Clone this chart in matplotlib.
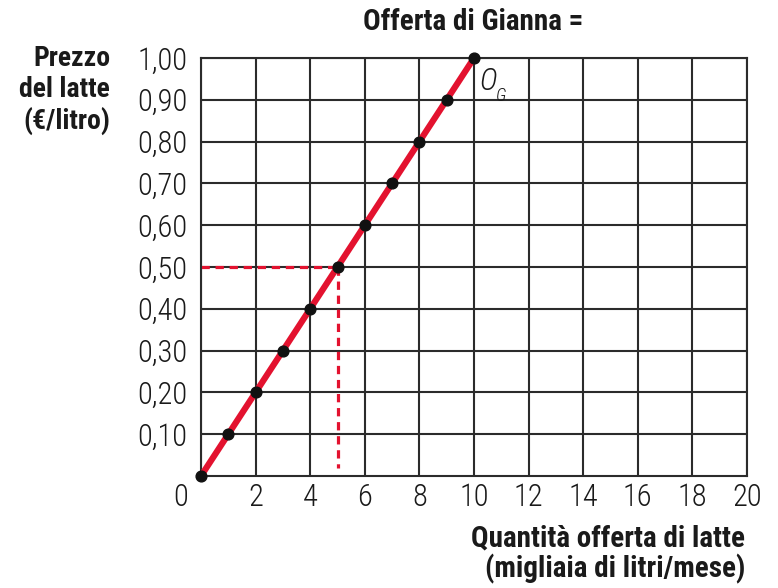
import matplotlib
matplotlib.use("Agg")
import matplotlib.pyplot as plt
from matplotlib.ticker import FixedLocator

INK = "#1a1a1a"
GRID = "#2b2b2b"
RED = "#e3122f"

plt.rcParams.update({
    "font.family": ["Roboto Condensed", "DejaVu Sans"],
})

# supply schedule of Gianna
quantity = [0, 1, 2, 3, 4, 5, 6, 7, 8, 9, 10]
price = [0.0, 0.10, 0.20, 0.30, 0.40, 0.50, 0.60, 0.70, 0.80, 0.90, 1.00]

x_ticks = [0, 2, 4, 6, 8, 10, 12, 14, 16, 18, 20]
y_ticks = [0.1, 0.2, 0.3, 0.4, 0.5, 0.6, 0.7, 0.8, 0.9, 1.0]
y_labels = ["0,10", "0,20", "0,30", "0,40", "0,50", "0,60", "0,70", "0,80", "0,90", "1,00"]

# highlighted point
q_mark, p_mark = 5, 0.50

fig = plt.figure(figsize=(7.78, 5.88), dpi=100)
ax = fig.add_axes([201 / 778, 1 - 476 / 588, 546 / 778, 418 / 588])

ax.set_xlim(0, 20)
ax.set_ylim(0, 1.0)
ax.xaxis.set_major_locator(FixedLocator(x_ticks))
ax.yaxis.set_major_locator(FixedLocator(y_ticks))
ax.set_xticklabels(["" if t == 0 else str(t) for t in x_ticks])
ax.set_yticklabels(y_labels)
ax.grid(True, color=GRID, linewidth=1.5, zorder=1)
for s in ax.spines.values():
    s.set_color(GRID)
    s.set_linewidth(1.5)
ax.tick_params(axis="y", length=0, labelsize=22, colors=INK, pad=10)
ax.tick_params(axis="x", length=0, labelsize=22, colors=INK, pad=5)
for lab in ax.get_xticklabels() + ax.get_yticklabels():
    lab.set_fontweight("light")
ax.set_axisbelow(True)

# origin label sits left of the axis corner
ax.annotate("0", xy=(0, 0), xytext=(-15, -5), textcoords="offset points",
            ha="center", va="top", fontsize=22, fontweight="light", color=INK,
            annotation_clip=False)

ax.plot([0, q_mark], [p_mark, p_mark], color=RED, linewidth=2.3,
        linestyle=(0, (2.6, 1.8)), zorder=2)
ax.plot([q_mark, q_mark], [p_mark, 0.02], color=RED, linewidth=2.3,
        linestyle=(0, (2.6, 1.8)), zorder=2)

ax.plot(quantity, price, color=RED, linewidth=4.5, solid_capstyle="butt", zorder=3)
ax.scatter(quantity, price, s=60, color="#111111", zorder=4, clip_on=False)

ax.text(10.2, 0.98, "O", fontsize=22, style="italic", fontweight="light",
        color=INK, ha="left", va="top")
ax.text(10.82, 0.93, "G", fontsize=13, style="italic", fontweight="light",
        color=INK, ha="left", va="top")

fig.text(473 / 778, 1 - 22 / 588, "Offerta di Gianna =", ha="center", va="center",
         fontsize=21, fontweight="heavy", color=INK)
fig.text(110 / 778, 1 - 45 / 588, "Prezzo\ndel latte\n(€/litro)", ha="right", va="top",
         fontsize=20, fontweight="heavy", color=INK, linespacing=1.18)
fig.text(745 / 778, 1 - 524 / 588, "Quantità offerta di latte\n(migliaia di litri/mese)",
         ha="right", va="top", fontsize=21, fontweight="heavy", color=INK,
         linespacing=1.1, multialignment="right")

fig.savefig("out.png", dpi=100, facecolor="white")
